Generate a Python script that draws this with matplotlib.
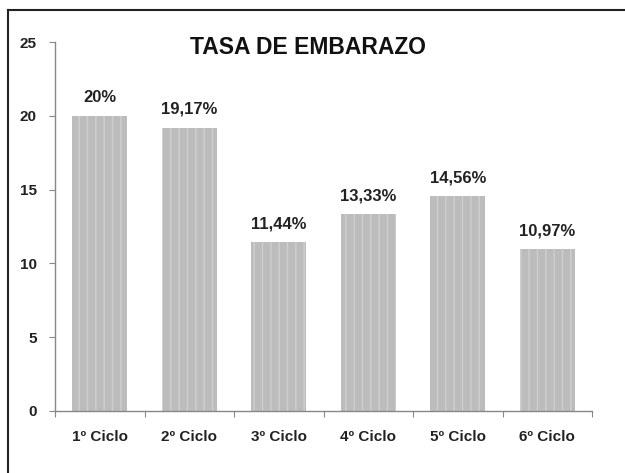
import matplotlib.pyplot as plt
from matplotlib.lines import Line2D

ciclos = ['1º Ciclo', '2º Ciclo', '3º Ciclo', '4º Ciclo', '5º Ciclo', '6º Ciclo']
tasas = [20.0, 19.17, 11.44, 13.33, 14.56, 10.97]
etiquetas = ['20%', '19,17%', '11,44%', '13,33%', '14,56%', '10,97%']

plt.rcParams['font.family'] = ['Liberation Sans', 'DejaVu Sans']
plt.rcParams['hatch.linewidth'] = 1.0

fig = plt.figure(figsize=(6.25, 4.73), dpi=100)
ax = fig.add_axes([55 / 625, 1 - 411 / 473, 537 / 625, 369 / 473])

x = range(len(ciclos))
bars = ax.bar(x, tasas, width=0.61, color='#bcbcbc', hatch='||', linewidth=0)
for b in bars:
    b.set_edgecolor('#cfcfcf')

for xi, v, lab in zip(x, tasas, etiquetas):
    ax.text(xi, v + 0.75, lab, ha='center', va='bottom',
            fontsize=12, fontweight='bold', color='#222222')

ax.set_xlim(-0.5, 5.5)
ax.set_ylim(0, 25)
ax.set_yticks([0, 5, 10, 15, 20, 25])
ax.set_xticks([i + 0.5 for i in range(-1, 6)])
ax.set_xticklabels([])
ax.set_xticks(list(x), minor=True)
ax.set_xticklabels(ciclos, minor=True)
ax.tick_params(axis='x', which='minor', length=0, pad=14,
               labelsize=11, labelcolor='#222222')
ax.tick_params(axis='x', which='major', length=4, color='#888888')
ax.tick_params(axis='y', length=4, color='#888888', pad=9,
               labelsize=11, labelcolor='#222222')
for lab in ax.get_xticklabels(minor=True) + ax.get_yticklabels():
    lab.set_fontweight('bold')

for s in ['top', 'right']:
    ax.spines[s].set_visible(False)
for s in ['left', 'bottom']:
    ax.spines[s].set_color('#888888')
    ax.spines[s].set_linewidth(1.0)

fig.text(308 / 625, 1 - 47 / 473, 'TASA DE EMBARAZO', ha='center', va='center',
         fontsize=16.5, fontweight='bold', color='#111111')

# marco recortado: solo borde superior e izquierdo
fig.add_artist(Line2D([8 / 625, 8 / 625], [0, 1 - 10 / 473], color='#222222', lw=1.5))
fig.add_artist(Line2D([8 / 625, 1], [1 - 10 / 473, 1 - 10 / 473], color='#222222', lw=1.5))

fig.savefig('out.png', dpi=100)
